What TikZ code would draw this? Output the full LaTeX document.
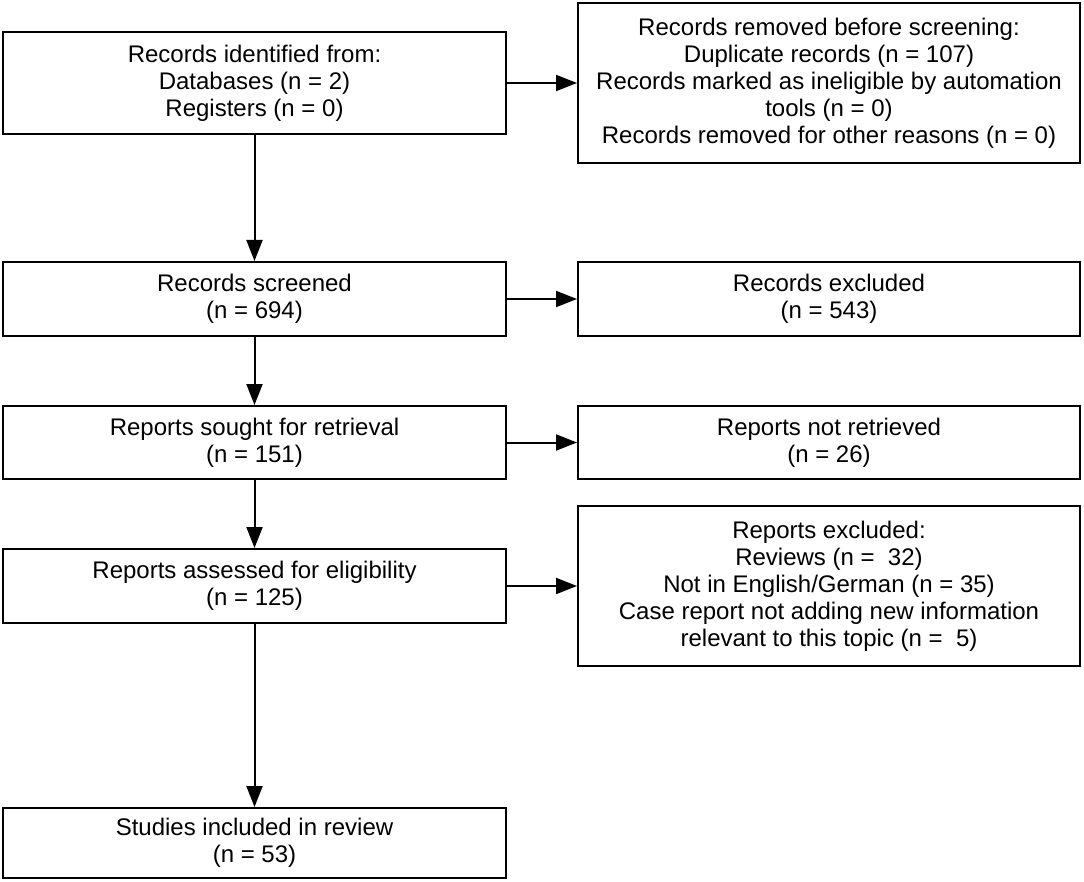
\documentclass[tikz,border=0pt]{standalone}
\usepackage{fontspec}
\setmainfont{Liberation Sans}
\usetikzlibrary{arrows.meta}
\begin{document}
\begin{tikzpicture}[x=1pt, y=-1pt,
  box/.style={draw, line width=2pt, align=center, inner sep=0pt, minimum width=503pt, font=\fontsize{24}{27}\selectfont},
  arr/.style={-{Triangle[length=21pt, width=16pt]}, line width=2pt}]
\useasboundingbox (0,0) rectangle (1084,882);
% left column
\node [box, minimum height=102pt] (ident) at (254.5,83) {Records identified from:\\Databases (n = 2)\\Registers (n = 0)};
\node [box, minimum height=74pt] (screened) at (254.5,299) {Records screened\\(n = 694)};
\node [box, minimum height=73pt] (sought) at (254.5,442.5) {Reports sought for retrieval\\(n = 151)};
\node [box, minimum height=74pt] (assessed) at (254.5,586) {Reports assessed for eligibility\\(n = 125)};
\node [box, minimum height=70pt] (included) at (254.5,843) {Studies included in review\\(n = 53)};
% right column
\node [box, minimum width=502pt, minimum height=160pt] (removed) at (829,83) {Records removed before screening:\\Duplicate records (n = 107)\\Records marked as ineligible by automation\\tools (n = 0)\\Records removed for other reasons (n = 0)};
\node [box, minimum width=502pt, minimum height=74pt] (recexcl) at (829,299) {Records excluded\\(n = 543)};
\node [box, minimum width=502pt, minimum height=73pt] (notretr) at (829,442.5) {Reports not retrieved\\(n = 26)};
\node [box, minimum width=502pt, minimum height=160pt] (repexcl) at (829,586) {Reports excluded:\\Reviews (n =\ \ 32)\\Not in English/German (n = 35)\\Case report not adding new information\\relevant to this topic (n =\ \ 5)};
% arrows
\draw [arr] (ident) -- (screened);
\draw [arr] (screened) -- (sought);
\draw [arr] (sought) -- (assessed);
\draw [arr] (assessed) -- (included);
\draw [arr] (ident) -- (removed);
\draw [arr] (screened) -- (recexcl);
\draw [arr] (sought) -- (notretr);
\draw [arr] (assessed) -- (repexcl);
\end{tikzpicture}
\end{document}
